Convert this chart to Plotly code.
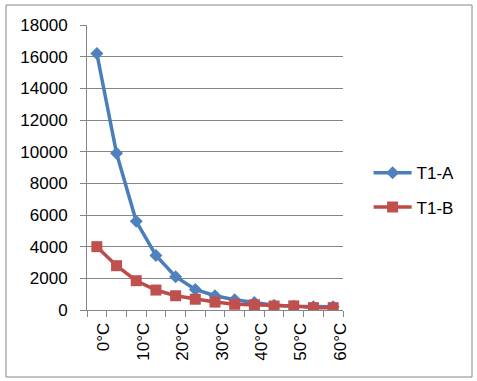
import plotly.graph_objects as go

categories = ["0°C", "5°C", "10°C", "15°C", "20°C", "25°C", "30°C", "35°C", "40°C", "45°C", "50°C", "55°C", "60°C"]
t1a = [16200, 9900, 5600, 3450, 2100, 1300, 900, 650, 470, 300, 230, 200, 200]
t1b = [4000, 2800, 1850, 1260, 900, 680, 500, 360, 330, 250, 260, 150, 150]
y_ticks = [0, 2000, 4000, 6000, 8000, 10000, 12000, 14000, 16000, 18000]
y_labels = [str(v) for v in y_ticks]

x = list(range(len(categories)))
font = "Liberation Sans, Arial, sans-serif"
grid = "#868686"
fs = 17

fig = go.Figure()
fig.add_trace(go.Scatter(
    x=x, y=t1a, name="T1-A", mode="lines+markers", legendgroup="a",
    line=dict(color="#4A7EBB", width=3.5),
    marker=dict(symbol="diamond", size=10, color="#4F81BD", line=dict(width=0)),
))
fig.add_trace(go.Scatter(
    x=x, y=t1b, name="T1-B", mode="lines+markers", legendgroup="b",
    line=dict(color="#BE4B48", width=3.5),
    marker=dict(symbol="square", size=11, color="#C0504D", line=dict(width=0)),
))

fig.update_layout(
    width=477, height=381,
    margin=dict(l=87, r=134, t=25, b=71, autoexpand=False),
    paper_bgcolor="white", plot_bgcolor="white",
    font=dict(family=font, size=fs, color="#000000"),
    showlegend=True,
    legend=dict(
        x=1.1, y=0.42, xanchor="left", yanchor="middle",
        font=dict(family=font, size=fs, color="#000000"),
        traceorder="grouped", tracegroupgap=9, itemwidth=38,
        bgcolor="rgba(0,0,0,0)",
    ),
    xaxis=dict(
        range=[-0.5, len(categories) - 0.5],
        tickmode="array",
        tickvals=x[::2], ticktext=categories[::2],
        tickangle=-90, ticks="", showgrid=False,
        ticklabelshift=7, ticklabelstandoff=5,
        tickfont=dict(family=font, size=fs, color="#000000"),
        showline=True, linecolor=grid, linewidth=1,
        zeroline=False, automargin=False,
        minor=dict(
            tickmode="array",
            tickvals=[i - 0.5 for i in range(len(categories) + 1)],
            ticks="outside", ticklen=6, tickcolor=grid, tickwidth=1,
            showgrid=False,
        ),
        fixedrange=True,
    ),
    yaxis=dict(
        range=[0, 18000],
        tickmode="array", tickvals=y_ticks, ticktext=y_labels,
        ticks="outside", ticklen=6, tickcolor=grid,
        ticklabelstandoff=9,
        tickfont=dict(family=font, size=fs, color="#000000"),
        showgrid=True, gridcolor=grid, gridwidth=1,
        showline=True, linecolor=grid, linewidth=1,
        zeroline=False, automargin=False,
        fixedrange=True,
    ),
)

fig.add_shape(
    type="rect", xref="paper", yref="paper",
    x0=(6 - 87) / 256, x1=(472 - 87) / 256,
    y0=(310 - 377) / 285, y1=(310 - 5) / 285,
    line=dict(color=grid, width=1), fillcolor="rgba(0,0,0,0)", layer="below",
)

fig.write_html(
    "out.html",
    config={"displayModeBar": False},
    post_script="document.body.style.margin='0';document.body.style.overflow='hidden';",
)
